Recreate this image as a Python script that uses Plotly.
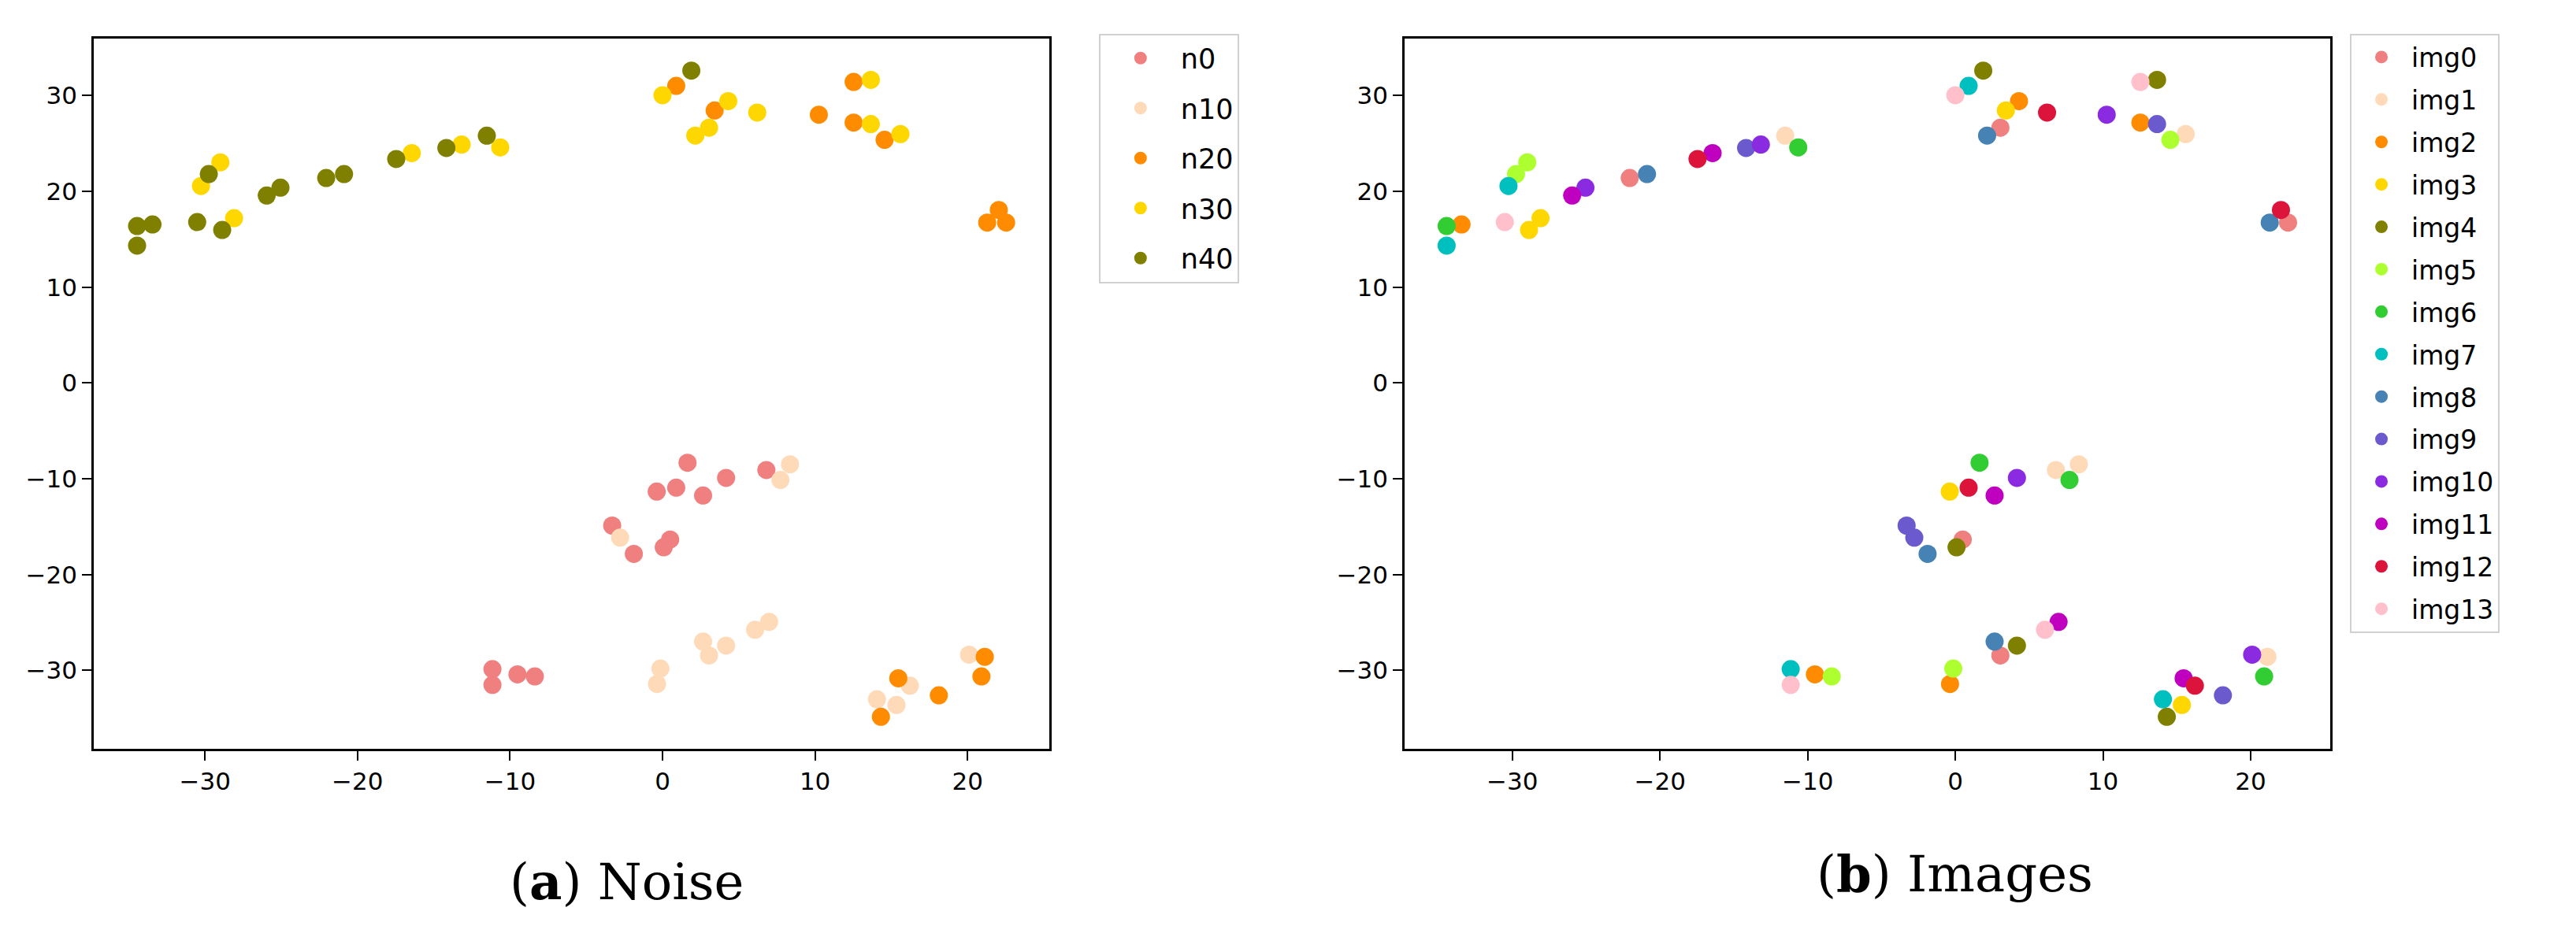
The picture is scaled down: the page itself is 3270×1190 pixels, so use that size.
import plotly.graph_objects as go

# t-SNE style embedding: 14 images x 5 noise levels (values listed in image order img0..img13)
IMAGES = [f"img{i}" for i in range(14)]
NOISE = ["n0", "n10", "n20", "n30", "n40"]

X_N0 = [0.50, 6.81, -9.51, -0.38, 0.08, -8.37, 1.64, -11.15, -1.88, -3.30, 4.17, 2.66, 0.90, -11.15]
Y_N0 = [-16.34, -9.09, -30.42, -11.34, -17.16, -30.64, -8.33, -29.88, -17.84, -14.89, -9.91, -11.75, -10.93, -31.52]

X_N10 = [3.05, 8.36, -0.36, 15.34, 4.17, -0.14, 7.73, 14.06, 2.66, -2.78, 20.10, 6.99, 16.22, 6.07]
Y_N10 = [-28.45, -8.49, -31.43, -33.62, -27.42, -29.82, -10.13, -33.02, -27.00, -16.15, -28.37, -24.95, -31.60, -25.77]

X_N20 = [22.53, 21.13, 12.53, 3.42, 14.32, 14.56, 20.91, 0.90, 21.29, 18.12, 10.25, 15.46, 22.05, 12.53]
Y_N20 = [16.75, -28.59, 27.19, 28.45, -34.85, 25.39, -30.64, 31.02, 16.75, -32.61, 28.01, -30.83, 18.06, 31.43]

X_N30 = [3.05, 15.60, 4.31, -28.09, 13.66, -28.99, -10.64, -30.26, 2.15, 13.66, -13.17, -16.44, 6.21, 0.00]
Y_N30 = [26.65, 25.99, 29.43, 17.21, 31.65, 23.04, 24.60, 20.57, 25.83, 27.03, 24.90, 24.00, 28.24, 30.04]

X_N40 = [-22.05, -11.52, -33.44, -28.87, 1.89, -29.75, -34.45, -34.45, -20.88, -14.17, -25.05, -25.95, -17.46, -30.51]
Y_N40 = [21.40, 25.82, 16.55, 15.98, 32.61, 21.81, 16.39, 14.34, 21.81, 24.54, 20.39, 19.57, 23.39, 16.80]

XS = [X_N0, X_N10, X_N20, X_N30, X_N40]
YS = [Y_N0, Y_N10, Y_N20, Y_N30, Y_N40]

NOISE_COLORS = ["#F08080", "#FFDAB9", "#FF8C00", "#FFD700", "#808000"]
IMAGE_COLORS = ["#F08080", "#FFDAB9", "#FF8C00", "#FFD700", "#808000", "#ADFF2F", "#32CD32",
                "#00BFBF", "#4682B4", "#6A5ACD", "#8A2BE2", "#BF00BF", "#DC143C", "#FFC0CB"]

MARKER = 23
TICK_FONT = dict(family="DejaVu Sans", size=31, color="black")

fig = go.Figure()

# --- (a) coloured by noise level ---
for k, name in enumerate(NOISE):
    fig.add_trace(go.Scatter(
        x=XS[k], y=YS[k], mode="markers", name=name,
        marker=dict(color=NOISE_COLORS[k], size=MARKER, line=dict(width=0)),
        xaxis="x", yaxis="y", legend="legend", legendgroup=name,
    ))

# --- (b) coloured by image ---
for i, name in enumerate(IMAGES):
    fig.add_trace(go.Scatter(
        x=[XS[k][i] for k in range(len(NOISE))],
        y=[YS[k][i] for k in range(len(NOISE))],
        mode="markers", name=name,
        marker=dict(color=IMAGE_COLORS[i], size=MARKER, line=dict(width=0)),
        xaxis="x2", yaxis="y2", legend="legend2", legendgroup=name,
    ))

all_x = [v for row in XS for v in row]
all_y = [v for row in YS for v in row]
pad_x = 0.05 * (max(all_x) - min(all_x))
pad_y = 0.05 * (max(all_y) - min(all_y))
x_range = [min(all_x) - pad_x, max(all_x) + pad_x]
y_range = [min(all_y) - pad_y, max(all_y) + pad_y]

axis_common = dict(
    showline=True, mirror=True, linecolor="black", linewidth=2.5,
    ticks="outside", ticklen=12, tickwidth=2, tickcolor="black",
    showgrid=False, zeroline=False, tickfont=TICK_FONT,
)

legend_common = dict(
    xanchor="left", yanchor="top", y=0.971,
    bgcolor="white", bordercolor="#d0d0d0", borderwidth=2,
    itemsizing="trace",
)

fig.update_layout(
    width=3270, height=1190,
    margin=dict(l=0, r=0, t=0, b=0),
    paper_bgcolor="white", plot_bgcolor="white",
    xaxis=dict(domain=[0.0339, 0.4050], range=x_range, tick0=0, dtick=10, anchor="y", **axis_common),
    yaxis=dict(domain=[0.2073, 0.9658], range=y_range, tick0=0, dtick=10, anchor="x", **axis_common),
    xaxis2=dict(domain=[0.5428, 0.9021], range=x_range, tick0=0, dtick=10, anchor="y2", **axis_common),
    yaxis2=dict(domain=[0.2073, 0.9658], range=y_range, tick0=0, dtick=10, anchor="x2", **axis_common),
    legend=dict(
        x=0.4241, itemwidth=92, tracegroupgap=15,
        font=dict(family="DejaVu Sans", size=35, color="black"),
        **legend_common,
    ),
    legend2=dict(
        x=0.9098, itemwidth=66, tracegroupgap=8,
        font=dict(family="DejaVu Sans", size=33, color="black"),
        **legend_common,
    ),
    annotations=[
        dict(text="(<b>a</b>) Noise", x=0.2407, y=0.066, xref="paper", yref="paper",
             xanchor="center", yanchor="middle", showarrow=False,
             font=dict(family="DejaVu Serif", size=64, color="black")),
        dict(text="(<b>b</b>) Images", x=0.7563, y=0.0744, xref="paper", yref="paper",
             xanchor="center", yanchor="middle", showarrow=False,
             font=dict(family="DejaVu Serif", size=64, color="black")),
    ],
)

fig.write_html("out.html")
